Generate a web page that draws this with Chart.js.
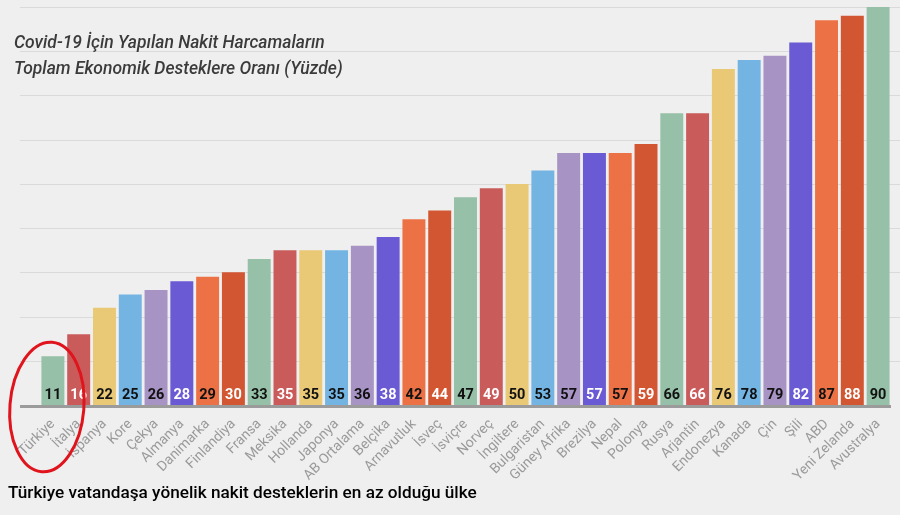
<!DOCTYPE html>
<html lang="tr">
<head>
<meta charset="utf-8">
<title>Covid-19 nakit destekleri</title>
<script src="https://cdn.jsdelivr.net/npm/chart.js@4.4.1/dist/chart.umd.min.js"></script>
<style>
  html, body { margin: 0; padding: 0; background: #efefef; }
  .chart-box { position: relative; width: 900px; height: 515px; overflow: hidden; }
  .chart-title {
    position: absolute; left: 14px; top: 29px; margin: 0;
    font: italic 500 17.5px/26px Roboto, sans-serif; color: #3b3b3b;
  }
  .chart-caption {
    position: absolute; left: 8px; top: 480px; margin: 0;
    font: 500 17.2px/24px Roboto, sans-serif; color: #000;
  }
</style>
</head>
<body>
<div class="chart-box">
  <canvas id="cashChart" width="900" height="515"></canvas>
  <p class="chart-title" id="chartTitle"></p>
  <p class="chart-caption" id="chartCaption"></p>
</div>
<script>
const countries = [
  'Türkiye', 'İtalya', 'İspanya', 'Kore', 'Çekya', 'Almanya', 'Danimarka',
  'Finlandiya', 'Fransa', 'Meksika', 'Hollanda', 'Japonya', 'AB Ortalama',
  'Belçika', 'Arnavutluk', 'İsveç', 'İsviçre', 'Norveç', 'İngiltere',
  'Bulgaristan', 'Güney Afrika', 'Brezilya', 'Nepal', 'Polonya', 'Rusya',
  'Arjantin', 'Endonezya', 'Kanada', 'Çin', 'Şili', 'ABD', 'Yeni Zelanda',
  'Avustralya',
];

const cashShares = [
  11, 16, 22, 25, 26, 28, 29, 30, 33, 35, 35, 35, 36, 38, 42, 44, 47,
  49, 50, 53, 57, 57, 57, 59, 66, 66, 76, 78, 79, 82, 87, 88, 90,
];

const yTicks = [0, 10, 20, 30, 40, 50, 60, 70, 80, 90];

const titleLines = [
  'Covid-19 İçin Yapılan Nakit Harcamaların',
  'Toplam Ekonomik Desteklere Oranı (Yüzde)',
];
const caption = 'Türkiye vatandaşa yönelik nakit desteklerin en az olduğu ülke';
const highlighted = 'Türkiye';

const barColors = ['#96c0a7', '#ca5b5b', '#e9c976', '#73b4e2', '#a793c4', '#6a5ad4', '#ec7246', '#d35632'];
const valueColors = ['#111', '#fff', '#111', '#111', '#111', '#fff', '#111', '#fff'];

const getColors = (dataArray, colorArray) =>
  dataArray.map((item, index) => colorArray[index % colorArray.length]);

document.getElementById('chartTitle').innerHTML = titleLines.join('<br>');
document.getElementById('chartCaption').textContent = caption;

// grid lines run wider than the plot area in the original
const gridLines = {
  id: 'gridLines',
  beforeDatasetsDraw(chart) {
    const { ctx, scales: { y } } = chart;
    ctx.save();
    ctx.strokeStyle = '#dadada';
    ctx.lineWidth = 1;
    yTicks.forEach((v) => {
      if (v === 0) return;
      const py = Math.round(y.getPixelForValue(v)) + 0.5;
      ctx.beginPath();
      ctx.moveTo(20, py);
      ctx.lineTo(900, py);
      ctx.stroke();
    });
    ctx.restore();
  },
  afterDatasetsDraw(chart) {
    const { ctx, chartArea, scales: { x, y } } = chart;
    const base = y.getPixelForValue(0);
    ctx.save();
    ctx.fillStyle = '#9b9b9b';
    ctx.fillRect(20, base, chartArea.right - 20, 3);

    // value labels at the foot of every bar
    const bars = chart.getDatasetMeta(0).data;
    const textColors = getColors(countries, valueColors);
    ctx.font = 'bold 14.5px Roboto, sans-serif';
    ctx.textAlign = 'center';
    ctx.textBaseline = 'middle';
    bars.forEach((bar, i) => {
      ctx.fillStyle = textColors[i];
      ctx.fillText(String(cashShares[i]), bar.x, base - 10);
    });

    // red ring around the highlighted country
    const hx = x.getPixelForValue(countries.indexOf(highlighted));
    ctx.strokeStyle = '#e0141c';
    ctx.lineWidth = 3;
    ctx.beginPath();
    ctx.ellipse(hx - 6, base + 2, 37, 65, 0.08, 0, Math.PI * 2);
    ctx.stroke();
    ctx.restore();
  },
};

new Chart(document.getElementById('cashChart').getContext('2d'), {
  type: 'bar',
  data: {
    labels: countries,
    datasets: [
      {
        label: 'Nakit harcama oranı',
        data: cashShares,
        backgroundColor: getColors(countries, barColors),
        borderWidth: 0,
        barPercentage: 0.89,
        categoryPercentage: 1,
      },
    ],
  },
  options: {
    responsive: false,
    animation: false,
    layout: { padding: { left: 40, right: 9, top: 7, bottom: 0 } },
    plugins: {
      legend: { display: false },
      tooltip: { enabled: false },
    },
    scales: {
      x: {
        grid: { display: false },
        border: { display: false },
        ticks: {
          color: '#9a9a9a',
          font: { family: 'Roboto', size: 14 },
          minRotation: 45,
          maxRotation: 45,
          autoSkip: false,
          padding: 3,
        },
        afterFit(scale) {
          scale.height = 110;
        },
      },
      y: {
        display: false,
        min: 0,
        max: 90,
      },
    },
  },
  plugins: [gridLines],
});
</script>
</body>
</html>
